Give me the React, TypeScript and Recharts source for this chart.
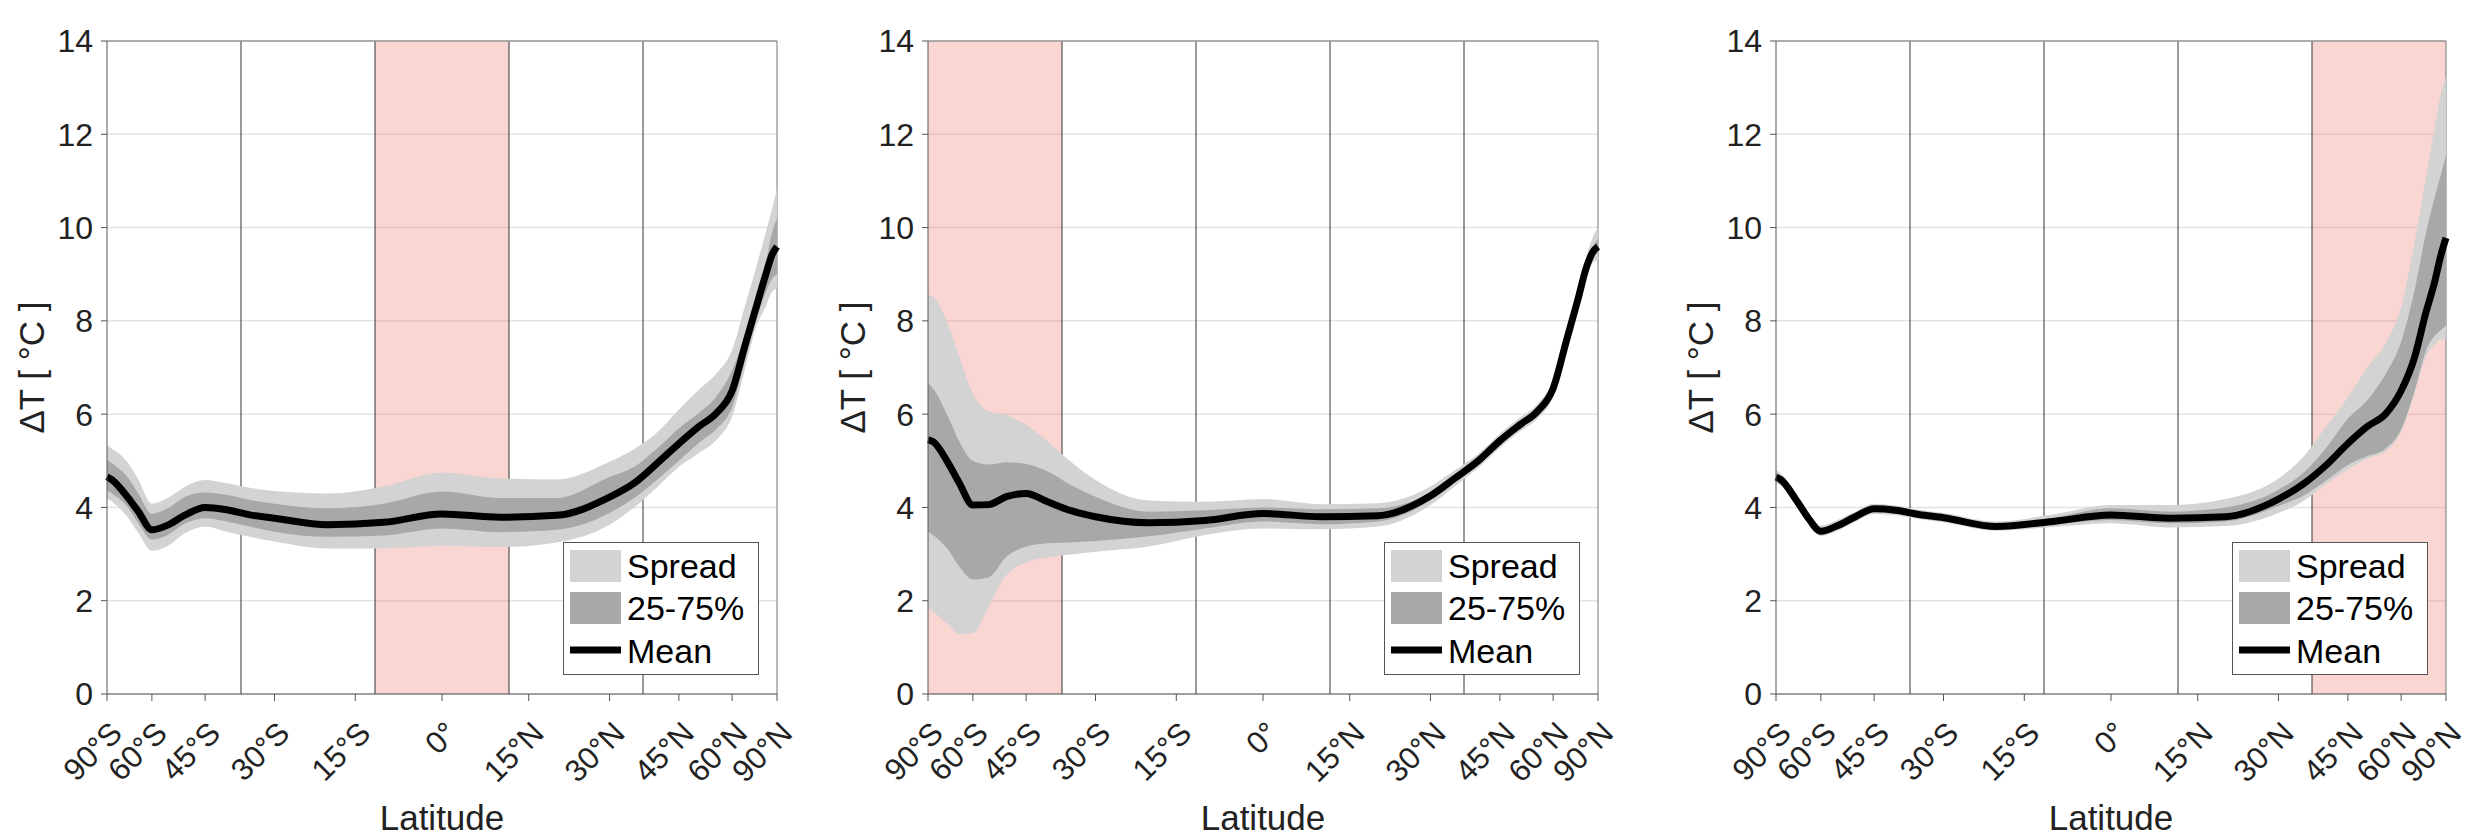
import React from "react";
import {
  ComposedChart,
  Area,
  Line,
  XAxis,
  YAxis,
  CartesianGrid,
  ReferenceArea,
  ReferenceLine,
  Legend,
} from "recharts";

// latitude grid (deg) the curves are sampled on
const lats = [-90, -80, -70, -65, -60, -55, -50, -45, -40, -35, -30, -20, -10, 0, 10, 20, 30, 35, 40, 45, 50, 55, 60, 65, 70, 75, 80, 90];

// panel 1 (tropics highlighted)
const mean1 = [4.66, 4.59, 4.23, 3.91, 3.52, 3.62, 3.84, 4.0, 3.95, 3.84, 3.77, 3.63, 3.68, 3.86, 3.79, 3.83, 4.22, 4.52, 4.95, 5.37, 5.73, 6.02, 6.5, 7.52, 8.34, 8.98, 9.41, 9.59];
const hi1 = [5.32, 5.26, 4.98, 4.6, 4.08, 4.2, 4.45, 4.59, 4.52, 4.42, 4.35, 4.3, 4.45, 4.75, 4.62, 4.6, 4.98, 5.25, 5.61, 6.1, 6.52, 6.87, 7.38, 8.37, 9.2, 9.88, 10.38, 10.85];
const lo1 = [4.19, 4.12, 3.8, 3.45, 3.07, 3.17, 3.45, 3.59, 3.48, 3.37, 3.27, 3.12, 3.12, 3.18, 3.15, 3.25, 3.63, 4.0, 4.44, 4.87, 5.16, 5.45, 5.95, 7.02, 7.91, 8.3, 8.62, 8.7];
const q75_1 = [5.02, 4.94, 4.66, 4.3, 3.86, 3.98, 4.23, 4.32, 4.27, 4.16, 4.08, 3.98, 4.08, 4.34, 4.2, 4.2, 4.65, 4.87, 5.27, 5.7, 6.02, 6.38, 6.94, 7.73, 8.56, 9.23, 9.88, 10.2];
const q25_1 = [4.37, 4.3, 4.02, 3.66, 3.31, 3.41, 3.66, 3.77, 3.7, 3.59, 3.48, 3.37, 3.4, 3.55, 3.47, 3.52, 3.88, 4.2, 4.6, 5.0, 5.38, 5.68, 6.15, 7.2, 8.05, 8.6, 8.9, 9.0];

// panel 2 (southern high latitudes highlighted)
const mean2 = [5.45, 5.41, 4.95, 4.52, 4.05, 4.06, 4.23, 4.3, 4.12, 3.93, 3.8, 3.67, 3.72, 3.87, 3.8, 3.82, 4.25, 4.63, 5.0, 5.43, 5.77, 6.06, 6.55, 7.59, 8.45, 9.16, 9.48, 9.59];
const hi2 = [8.55, 8.52, 7.91, 7.23, 6.45, 6.06, 5.98, 5.77, 5.41, 4.98, 4.59, 4.15, 4.12, 4.18, 4.07, 4.09, 4.45, 4.8, 5.15, 5.58, 5.92, 6.22, 6.72, 7.78, 8.65, 9.4, 9.8, 10.0];
const lo2 = [1.84, 1.77, 1.48, 1.28, 1.3, 1.87, 2.55, 2.82, 2.93, 2.99, 3.05, 3.16, 3.41, 3.55, 3.53, 3.59, 4.05, 4.46, 4.85, 5.28, 5.62, 5.9, 6.38, 7.4, 8.25, 8.95, 9.25, 9.3];
const q75_2 = [6.66, 6.55, 5.94, 5.41, 5.0, 4.92, 4.97, 4.93, 4.77, 4.48, 4.23, 3.91, 3.94, 4.0, 3.96, 3.98, 4.32, 4.7, 5.07, 5.5, 5.84, 6.13, 6.62, 7.67, 8.53, 9.25, 9.6, 9.75];
const q25_2 = [3.48, 3.41, 3.09, 2.73, 2.46, 2.5, 2.94, 3.16, 3.23, 3.25, 3.28, 3.38, 3.55, 3.7, 3.64, 3.7, 4.15, 4.55, 4.92, 5.35, 5.7, 5.99, 6.47, 7.5, 8.36, 9.05, 9.38, 9.45];

// panel 3 (northern high latitudes highlighted)
const mean3 = [4.65, 4.59, 4.16, 3.8, 3.49, 3.6, 3.79, 3.97, 3.94, 3.85, 3.78, 3.59, 3.7, 3.84, 3.77, 3.8, 4.18, 4.5, 4.91, 5.37, 5.74, 6.0, 6.5, 7.22, 8.17, 8.83, 9.41, 9.78];
const hi3 = [4.8, 4.72, 4.28, 3.92, 3.61, 3.72, 3.9, 4.08, 4.04, 3.95, 3.88, 3.7, 3.85, 4.05, 4.05, 4.18, 4.62, 5.08, 5.74, 6.36, 7.01, 7.51, 8.29, 9.69, 11.05, 12.13, 12.87, 13.24];
const lo3 = [4.52, 4.47, 4.05, 3.69, 3.39, 3.49, 3.68, 3.86, 3.83, 3.75, 3.68, 3.5, 3.58, 3.66, 3.57, 3.6, 3.88, 4.13, 4.5, 4.82, 5.05, 5.2, 5.62, 6.45, 7.22, 7.5, 7.6, 7.6];
const q75_3 = [4.72, 4.66, 4.22, 3.86, 3.55, 3.66, 3.85, 4.02, 3.99, 3.9, 3.83, 3.65, 3.78, 3.98, 3.91, 4.0, 4.38, 4.74, 5.28, 5.9, 6.31, 6.85, 7.55, 8.66, 9.86, 10.64, 11.14, 11.55];
const q25_3 = [4.58, 4.53, 4.1, 3.74, 3.44, 3.54, 3.73, 3.92, 3.89, 3.8, 3.73, 3.54, 3.63, 3.73, 3.66, 3.7, 4.03, 4.25, 4.58, 4.91, 5.1, 5.26, 5.67, 6.5, 7.35, 7.68, 7.8, 7.9];

const latTicks = [-90, -60, -45, -30, -15, 0, 15, 30, 45, 60, 90];
const yTicks = [0, 2, 4, 6, 8, 10, 12, 14];
// band edges on the sin(latitude) axis (equal-area fifths)
const dividers = [-0.6, -0.2, 0.2, 0.6];

const FONT = "'Liberation Sans', Arial, Helvetica, sans-serif";
const TXT = "#222";
const LIGHT = "#d3d3d3";
const DARK = "#a8a8a8";

const toX = (lat: number) => Math.sin((lat * Math.PI) / 180);

const latLabel = (lat: number) => {
  if (lat === 0) return "0°";
  return `${Math.abs(lat)}°${lat < 0 ? "S" : "N"}`;
};

const LatTick = ({ x, y, index }: any) => (
  <g>
    <text
      x={x + 17}
      y={y + 34}
      transform={`rotate(-45 ${x + 17} ${y + 34})`}
      textAnchor="end"
      fontSize={31}
      fontFamily={FONT}
      fill={TXT}
    >
      {latLabel(latTicks[index])}
    </text>
  </g>
);

const LegendBox = () => (
  <svg width={196} height={133} style={{ display: "block" }}>
    <rect x={0.5} y={0.5} width={195} height={132} fill="#fff" stroke="#555" />
    <rect x={7} y={8} width={51} height={32} fill={LIGHT} />
    <rect x={7} y={50} width={51} height={32} fill={DARK} />
    <line x1={7} x2={58} y1={108} y2={108} stroke="#000" strokeWidth={7} />
    <g fontFamily={FONT} fontSize={34} fill="#000">
      <text x={64} y={36}>Spread</text>
      <text x={64} y={78}>25-75%</text>
      <text x={64} y={121}>Mean</text>
    </g>
  </svg>
);

type PanelProps = {
  left: number;
  band: [number, number];
  mean: number[];
  hi: number[];
  lo: number[];
  q75: number[];
  q25: number[];
};

const Panel = ({ left, band, mean, hi, lo, q75, q25 }: PanelProps) => {
  const rows = lats.map((lat, i) => ({
    x: toX(lat),
    spread: [lo[i], hi[i]],
    iqr: [q25[i], q75[i]],
    mean: mean[i],
  }));

  return (
    <div style={{ position: "absolute", left, top: 0 }}>
      <ComposedChart
        width={812}
        height={836}
        data={rows}
        margin={{ top: 41, right: 35, bottom: 0, left: 47 }}
      >
        <CartesianGrid vertical={false} stroke="#e4e4e4" strokeWidth={1.5} />
        <ReferenceArea
          x1={band[0]}
          x2={band[1]}
          y1={0}
          y2={14}
          fill="#f08073"
          fillOpacity={0.32}
          stroke="none"
          zIndex={-10}
        />
        {dividers.map((d) => (
          <ReferenceLine key={d} x={d} stroke="#333" strokeWidth={1} zIndex={-10} />
        ))}
        <ReferenceLine y={14} stroke="#999" strokeWidth={1.5} zIndex={-10} />
        <ReferenceLine x={1} stroke="#777" strokeWidth={1} zIndex={-10} />
        <XAxis
          type="number"
          dataKey="x"
          domain={[-1, 1]}
          ticks={latTicks.map(toX)}
          interval={0}
          height={142}
          tickSize={7}
          tickMargin={0}
          axisLine={{ stroke: "#555" }}
          tickLine={{ stroke: "#555" }}
          tick={<LatTick />}
          label={({ viewBox }: any) => (
            <text
              x={viewBox.x + viewBox.width / 2}
              y={viewBox.y + 136}
              textAnchor="middle"
              fontSize={35}
              fontFamily={FONT}
              fill={TXT}
            >
              Latitude
            </text>
          )}
        />
        <YAxis
          type="number"
          domain={[0, 14]}
          ticks={yTicks}
          width={60}
          tickSize={6}
          tickMargin={8}
          axisLine={{ stroke: "#555" }}
          tickLine={{ stroke: "#555" }}
          tick={{ fontSize: 32, fontFamily: FONT, fill: TXT }}
          label={({ viewBox }: any) => {
            const lx = viewBox.x + viewBox.width - 63;
            const ly = viewBox.y + viewBox.height / 2;
            return (
              <text
                x={lx}
                y={ly}
                transform={`rotate(-90 ${lx} ${ly})`}
                textAnchor="middle"
                fontSize={35}
                fontFamily={FONT}
                fill={TXT}
              >
                ΔT [ °C ]
              </text>
            );
          }}
        />
        <Area
          type="monotone"
          dataKey="spread"
          fill={LIGHT}
          fillOpacity={1}
          stroke="none"
          isAnimationActive={false}
        />
        <Area
          type="monotone"
          dataKey="iqr"
          fill={DARK}
          fillOpacity={1}
          stroke="none"
          isAnimationActive={false}
        />
        <Line
          type="monotone"
          dataKey="mean"
          stroke="#000"
          strokeWidth={7}
          dot={false}
          activeDot={false}
          isAnimationActive={false}
        />
        <Legend
          layout="vertical"
          align="center"
          verticalAlign="middle"
          wrapperStyle={{ left: 563, top: 542, width: 196, height: 133 }}
          content={() => <LegendBox />}
        />
      </ComposedChart>
    </div>
  );
};

export default function App() {
  return (
    <div
      style={{
        position: "absolute",
        left: 0,
        top: 0,
        width: 2465,
        height: 836,
        background: "#fff",
        overflow: "hidden",
      }}
    >
      <Panel left={0} band={[-0.2, 0.2]} mean={mean1} hi={hi1} lo={lo1} q75={q75_1} q25={q25_1} />
      <Panel left={821} band={[-1, -0.6]} mean={mean2} hi={hi2} lo={lo2} q75={q75_2} q25={q25_2} />
      <Panel left={1669} band={[0.6, 1]} mean={mean3} hi={hi3} lo={lo3} q75={q75_3} q25={q25_3} />
    </div>
  );
}
